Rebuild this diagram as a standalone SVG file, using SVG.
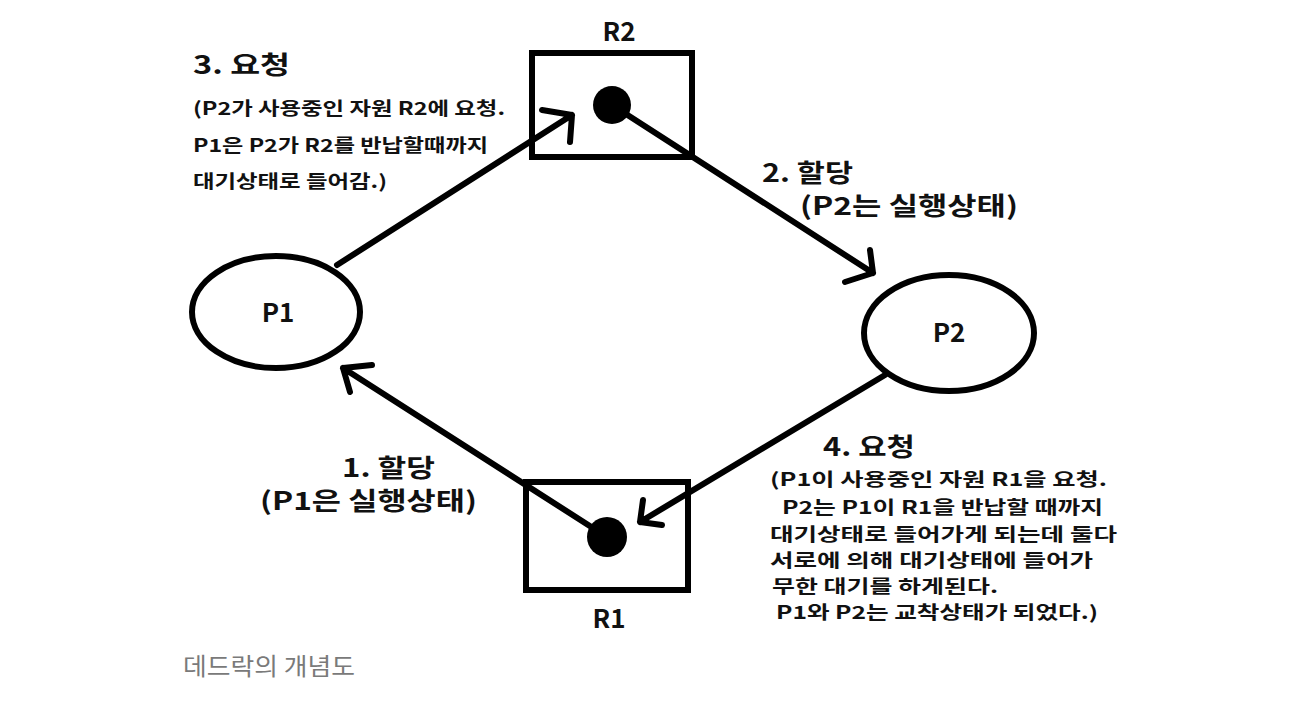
<svg xmlns="http://www.w3.org/2000/svg" width="1298" height="712" viewBox="0 0 1298 712">
  <style>
    .shape { fill: none; stroke: #000; stroke-width: 6; }
    .line { fill: none; stroke: #000; stroke-width: 6; stroke-linecap: round; stroke-linejoin: round; }
    .t { font-family: "Noto Sans CJK KR", "Liberation Sans", sans-serif; font-weight: bold; fill: #111; }
    .big { font-size: 25px; }
    .small { font-size: 18px; }
    .lbl { font-size: 26px; text-anchor: middle; }
    .cap { font-family: "Noto Sans CJK KR", "Liberation Sans", sans-serif; font-size: 24px; fill: #7a7a7a; }
  </style>
  <rect width="1298" height="712" fill="#fff"/>

  <g id="R2">
    <rect class="shape" x="532" y="53" width="160" height="104"/>
    <circle cx="612" cy="105" r="19" fill="#000"/>
    <text class="t lbl" x="619" y="41">R2</text>
  </g>
  <g id="R1">
    <rect class="shape" x="526" y="482" width="162" height="108"/>
    <circle cx="607" cy="537" r="20" fill="#000"/>
    <text class="t lbl" x="609" y="628">R1</text>
  </g>
  <g id="P1">
    <ellipse class="shape" cx="276" cy="312" rx="84" ry="56"/>
    <text class="t lbl" x="278" y="322">P1</text>
  </g>
  <g id="P2">
    <ellipse class="shape" cx="949" cy="333" rx="85" ry="58"/>
    <text class="t lbl" x="949" y="342">P2</text>
  </g>

  <g id="connectors">
    <path class="line" d="M337,265 L572,115 M542,110 L572,115 L570,142"/>
    <path class="line" d="M612,105 L873,273 M870,250 L873,273 L845,282"/>
    <path class="line" d="M885,375 L640,522 M643,500 L640,522 L662,525"/>
    <path class="line" d="M607,537 L343,368 M372,365 L343,368 L350,392"/>
  </g>

  <g id="label3">
    <text class="t big" x="193" y="74" textLength="97" lengthAdjust="spacingAndGlyphs">3. 요청</text>
    <text class="t small" x="193" y="115" textLength="312" lengthAdjust="spacingAndGlyphs">(P2가 사용중인 자원 R2에 요청.</text>
    <text class="t small" x="193" y="152" textLength="295" lengthAdjust="spacingAndGlyphs">P1은 P2가 R2를 반납할때까지</text>
    <text class="t small" x="193" y="188" textLength="194" lengthAdjust="spacingAndGlyphs">대기상태로 들어감.)</text>
  </g>
  <g id="label2">
    <text class="t big" x="762" y="182" textLength="91" lengthAdjust="spacingAndGlyphs">2. 할당</text>
    <text class="t big" x="800" y="215" textLength="218" lengthAdjust="spacingAndGlyphs">(P2는 실행상태)</text>
  </g>
  <g id="label1">
    <text class="t big" x="342" y="477" textLength="93" lengthAdjust="spacingAndGlyphs">1. 할당</text>
    <text class="t big" x="260" y="510" textLength="217" lengthAdjust="spacingAndGlyphs">(P1은 실행상태)</text>
  </g>
  <g id="label4">
    <text class="t big" x="823" y="456" textLength="92" lengthAdjust="spacingAndGlyphs">4. 요청</text>
    <text class="t small" x="770" y="486" textLength="337" lengthAdjust="spacingAndGlyphs">(P1이 사용중인 자원 R1을 요청.</text>
    <text class="t small" x="782" y="514" textLength="321" lengthAdjust="spacingAndGlyphs">P2는 P1이 R1을 반납할 때까지</text>
    <text class="t small" x="770" y="541" textLength="347" lengthAdjust="spacingAndGlyphs">대기상태로 들어가게 되는데 둘다</text>
    <text class="t small" x="770" y="567" textLength="323" lengthAdjust="spacingAndGlyphs">서로에 의해 대기상태에 들어가</text>
    <text class="t small" x="772" y="593" textLength="226" lengthAdjust="spacingAndGlyphs">무한 대기를 하게된다.</text>
    <text class="t small" x="776" y="619" textLength="322" lengthAdjust="spacingAndGlyphs">P1와 P2는 교착상태가 되었다.)</text>
  </g>
  <text class="cap" x="183" y="675" textLength="172" lengthAdjust="spacingAndGlyphs">데드락의 개념도</text>
</svg>
